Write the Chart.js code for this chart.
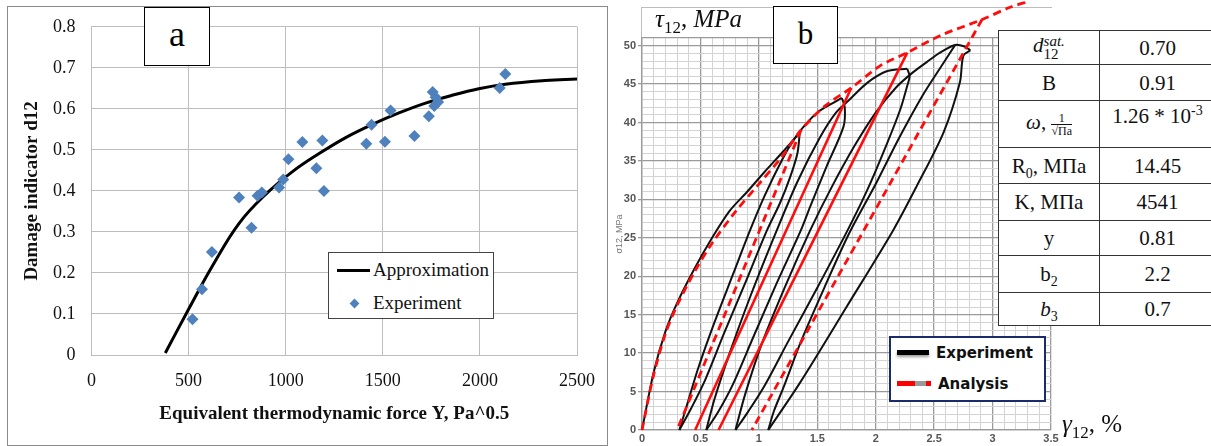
<!DOCTYPE html>
<html lang="en">
<head>
<meta charset="UTF-8">
<title>Damage indicator and cyclic shear response</title>
<script src="https://cdn.jsdelivr.net/npm/chart.js@4"></script>
<style>
  body { margin: 0; background: #fff; }
  #page { position: relative; width: 1211px; height: 446px; overflow: hidden; background: #fff; }
  canvas { position: absolute; top: 0; }
  #chartA { left: 0; }
  #chartB { left: 600px; }

  #frameA { position: absolute; left: 7px; top: 6px; width: 599px; height: 438px; border: 1px solid #8a8a8a; }
  #frameB { position: absolute; left: 641px; top: 7px; width: 410px; height: 31px; border-top: 1px solid #bdbdbd; border-left: 1px solid #bdbdbd; }

  .tag { position: absolute; box-sizing: border-box; background: #fff; border: 1.5px solid #000;
         font-family: "Liberation Serif", serif; text-align: center; color: #000; }
  #tagA { left: 144px; top: 7px; width: 66px; height: 59px; font-size: 36px; line-height: 52px; }
  #tagB { left: 773px; top: 6px; width: 65px; height: 58px; font-size: 31px; line-height: 54px; }

  #legendA { position: absolute; left: 328px; top: 252px; width: 166px; height: 67px; box-sizing: border-box;
             border: 1px solid #444; background: #fff; font-family: "Liberation Serif", serif; font-size: 19px; color: #111; }
  #legendA .txt { position: absolute; left: 44px; line-height: 22px; }
  #legendA .ln { position: absolute; left: 8px; top: 16px; width: 33px; height: 3px; background: #000; }
  #legendA .dm { position: absolute; left: 22px; top: 47px; width: 7px; height: 7px; background: #4f81bd; transform: rotate(45deg); }

  #legendB { position: absolute; left: 889px; top: 336px; width: 157px; height: 66px; box-sizing: border-box;
             border: 2px solid #1b2a6b; background: #fff; font-family: "DejaVu Sans", sans-serif; font-weight: bold; font-size: 15px; color: #111; }
  #legendB .txt { position: absolute; line-height: 18px; }
  #legendB .blk { position: absolute; left: 6px; top: 12px; width: 32px; height: 5px; background: #000; box-shadow: 0 2px 3px #999; }
  #legendB .seg { position: absolute; top: 43px; height: 5px; }

  #tauLabel { position: absolute; left: 655px; top: 4px; font-family: "Liberation Serif", serif; font-size: 25px; line-height: 30px; color: #111; }
  #gammaLabel { position: absolute; left: 1062px; top: 409px; font-family: "Liberation Serif", serif; font-size: 25px; line-height: 30px; color: #111; }
  #tauLabel sub, #gammaLabel sub { font-size: 17px; line-height: 0; }

  #params { position: absolute; left: 998px; top: 30px; width: 217px; table-layout: fixed; border-collapse: collapse;
            background: #fff; font-family: "Liberation Serif", serif; font-size: 21px; color: #111; }
  #params td { border: 1px solid #333; padding: 0; text-align: center; vertical-align: middle; line-height: 22px;
               font-family: "Liberation Serif", serif; }
  #params sub, #params sup { font-size: 14px; line-height: 0; }
  .ss { display: inline-block; vertical-align: middle; text-align: left; font-size: 15px; line-height: 13px; }
  .ss span { display: block; }
  .frac { display: inline-block; vertical-align: middle; text-align: center; font-size: 12px; line-height: 12px; }
  .frac .den { display: block; border-top: 1px solid #111; }
</style>
</head>
<body>
<div id="page">
  <div id="frameA"></div>
  <canvas id="chartA" width="610" height="446"></canvas>
  <div class="tag" id="tagA">a</div>
  <div id="legendA">
    <span class="ln"></span><div class="txt" style="top:6px">Approximation</div>
    <span class="dm"></span><div class="txt" style="top:39px">Experiment</div>
  </div>

  <div id="frameB"></div>
  <canvas id="chartB" width="611" height="446"></canvas>
  <div id="tauLabel"><i>τ</i><sub>12</sub>, <i>MPa</i></div>
  <div class="tag" id="tagB">b</div>

  <table id="params">
    <colgroup><col style="width:101px"><col style="width:116px"></colgroup>
    <tr style="height:34px"><td><i>d</i><span class="ss"><span><i>sat.</i></span><span>12</span></span></td><td>0.70</td></tr>
    <tr style="height:36px"><td>B</td><td>0.91</td></tr>
    <tr style="height:47px"><td><i>ω</i>, <span class="frac"><span>1</span><span class="den">√Па</span></span></td><td style="vertical-align:top;padding-top:4px">1.26 * 10<sup>-3</sup></td></tr>
    <tr style="height:36px"><td>R<sub>0</sub>, МПа</td><td>14.45</td></tr>
    <tr style="height:37px"><td>K, МПа</td><td>4541</td></tr>
    <tr style="height:35px"><td>y</td><td>0.81</td></tr>
    <tr style="height:37px"><td>b<sub>2</sub></td><td>2.2</td></tr>
    <tr style="height:33px"><td><i>b</i><sub>3</sub></td><td>0.7</td></tr>
  </table>

  <div id="legendB">
    <span class="blk"></span><div class="txt" style="left:45px;top:6px">Experiment</div>
    <span class="seg" style="left:6px;width:18px;background:#ff0000"></span>
    <span class="seg" style="left:24px;width:11px;background:#9a9a9a"></span>
    <span class="seg" style="left:35px;width:5px;background:#ff0000"></span>
    <div class="txt" style="left:47px;top:37px">Analysis</div>
  </div>
  <div id="gammaLabel"><i>γ</i><sub>12</sub>, %</div>
</div>

<script>
// ---- panel a: damage indicator vs thermodynamic force ----
const expY = [520, 569, 620, 760, 824, 855, 877, 966, 987, 1014, 1086, 1158, 1189, 1197,
              1415, 1442, 1511, 1540, 1663, 1737, 1757, 1765, 1772, 1785, 2102, 2131];
const expD = [0.087, 0.160, 0.251, 0.384, 0.310, 0.388, 0.396, 0.408, 0.428, 0.477, 0.519, 0.455, 0.523, 0.400,
              0.515, 0.561, 0.520, 0.596, 0.534, 0.582, 0.641, 0.607, 0.628, 0.617, 0.651, 0.685];
const approxY = [380, 504, 624, 760, 898, 1035, 1172, 1309, 1446, 1583, 1720, 1857, 1994, 2131, 2337, 2500];
const approxD = [0.005, 0.115, 0.218, 0.321, 0.392, 0.447, 0.491, 0.530, 0.562, 0.590, 0.614, 0.633, 0.649, 0.660, 0.669, 0.673];
const xTicksA = [0, 500, 1000, 1500, 2000, 2500];

// ---- panel b: shear stress-strain loops, [gamma %, tau MPa] ----
const expLoading = [[0, 0], [0.1, 7.5], [0.2, 12.8], [0.3, 16.5], [0.45, 21], [0.6, 25], [0.75, 28.5], [0.9, 31], [1.05, 33.6], [1.2, 36.1], [1.35, 38.7]];
const expUnload1 = [[1.35, 38.7], [1.33, 36], [1.27, 33], [1.18, 29.5], [1.07, 26], [0.88, 19], [0.70, 12.5], [0.54, 6.5], [0.42, 2.8], [0.32, 0]];
const expReload1 = [[0.32, 0], [0.38, 3], [0.48, 8], [0.62, 14], [0.78, 20.3], [0.925, 26], [1.05, 30.5], [1.20, 35.2], [1.30, 37.8], [1.38, 39.4], [1.50, 41.3], [1.64, 42.6], [1.71, 43.2]];
const expUnload2 = [[1.71, 43.2], [1.735, 42], [1.725, 39.5], [1.58, 34.3], [1.44, 29.1], [1.36, 26], [1.15, 19], [0.95, 12], [0.78, 6], [0.65, 2.3], [0.55, 0]];
const expReload2 = [[0.55, 0], [0.62, 4], [0.75, 10], [0.93, 17.5], [1.154, 26], [1.33, 32.3], [1.52, 38], [1.66, 41.3], [1.77, 42.9], [1.93, 45.2], [2.10, 46.7], [2.27, 47.0]];
const expUnload3 = [[2.27, 47.0], [2.29, 46], [2.27, 44.8], [2.21, 41.7], [2.10, 37.4], [1.93, 31.3], [1.76, 26], [1.50, 18.5], [1.25, 11.5], [1.05, 5.8], [0.90, 2.2], [0.80, 0]];
const expReload3 = [[0.80, 0], [0.88, 4.5], [1.02, 11], [1.22, 18.5], [1.44, 26], [1.62, 31.5], [1.82, 37], [2.0, 41.3], [2.17, 44.5], [2.30, 46.3], [2.44, 47.9], [2.55, 49.1], [2.68, 50.1], [2.76, 49.9], [2.81, 49.4]];
const expUnload4 = [[2.81, 49.4], [2.75, 48.7], [2.72, 45.2], [2.58, 38.7], [2.35, 31.7], [2.15, 26], [1.75, 16], [1.35, 6.1], [1.08, 0]];
const expReload4 = [[1.08, 0], [1.13, 2.5], [1.21, 5.5], [1.36, 11.5], [1.56, 18.5], [1.77, 25.5], [2.0, 32], [2.2, 38], [2.4, 43.5], [2.56, 47.3], [2.68, 50.1]];

const anaEnvelope = [[0, 0], [0.1, 7.2], [0.2, 12.5], [0.3, 16.2], [0.45, 20.6], [0.6, 24.3], [0.8, 28.4], [1.0, 32], [1.2, 35.6], [1.36, 39.0],
                     [1.57, 42.2], [1.79, 44.5], [2.04, 47.4], [2.27, 49.1], [2.55, 51.3], [2.91, 53.4], [3.15, 55.0], [3.32, 55.8]];
const anaUnload1 = [[1.36, 39.0], [0.30, 0]];
const anaUnload2 = [[1.79, 44.5], [0.455, 0]];
const anaUnload3 = [[2.27, 49.1], [0.655, 0]];
const anaUnload4 = [[2.91, 53.4], [0.94, 0]];

const serif = '"Liberation Serif", "Times New Roman", serif';

new Chart(document.getElementById('chartA'), {
  type: 'scatter',
  data: {
    datasets: [
      {
        label: 'Experiment',
        data: expY.map((x, i) => ({ x, y: expD[i] })),
        pointStyle: 'rectRot',
        pointRadius: 6,
        backgroundColor: '#4f81bd',
        borderColor: '#4f81bd',
        borderWidth: 0
      },
      {
        label: 'Approximation',
        data: approxY.map((x, i) => ({ x, y: approxD[i] })),
        showLine: true,
        borderColor: '#000',
        borderWidth: 3,
        pointRadius: 0,
        tension: 0.4
      }
    ]
  },
  options: {
    responsive: false,
    animation: false,
    layout: { padding: { top: 18, right: 32, left: 0, bottom: 0 } },
    plugins: { legend: { display: false }, tooltip: { enabled: false } },
    scales: {
      x: {
        type: 'linear', min: 0, max: 2500,
        afterBuildTicks: s => { s.ticks = xTicksA.map(v => ({ value: v })); },
        ticks: { padding: 15, color: '#111', font: { family: serif, size: 18 }, callback: v => String(v) },
        grid: { color: '#bdbdbd', drawTicks: false },
        border: { color: '#bdbdbd' },
        title: {
          display: true, text: 'Equivalent thermodynamic force Y, Pa^0.5', color: '#111',
          font: { family: serif, size: 19, weight: 'bold' }, padding: { top: 0, bottom: 21 }
        },
        afterFit: s => { s.height = 91; }
      },
      y: {
        min: 0, max: 0.8,
        ticks: { stepSize: 0.1, padding: 16, color: '#111', font: { family: serif, size: 18 },
                 callback: v => String(Math.round(v * 10) / 10) },
        grid: { color: '#bdbdbd', drawTicks: false },
        border: { color: '#bdbdbd' },
        title: {
          display: true, text: 'Damage indicator d12', color: '#111',
          font: { family: serif, size: 19, weight: 'bold' }, padding: { top: 21, bottom: 0 }
        },
        afterFit: s => { s.width = 91.5; }
      }
    }
  }
});

const pts = arr => arr.map(([x, y]) => ({ x, y }));
const curve = (arr, color, width, dash) => ({
  data: pts(arr),
  showLine: true,
  borderColor: color,
  borderWidth: width,
  borderDash: dash,
  pointRadius: 0,
  tension: 0.3,
  clip: false
});
const red = '#ff0d0d';
const isMajorX = v => Math.abs(v * 2 - Math.round(v * 2)) < 1e-6;
const isMajorY = v => v % 5 === 0 || v === 51;
const tickFontB = { family: '"Liberation Sans", Arial, sans-serif', size: 11, weight: 'bold' };

new Chart(document.getElementById('chartB'), {
  type: 'scatter',
  data: {
    datasets: [
      curve(anaEnvelope, red, 2.8, [8, 5]),
      curve(anaUnload1, red, 2.8, [8, 5]),
      curve(anaUnload2, red, 2.6, []),
      curve(anaUnload3, red, 2.6, []),
      curve(anaUnload4, red, 2.8, [8, 5]),
      curve(expLoading, '#111', 2, []),
      curve(expUnload1, '#111', 2, []),
      curve(expReload1, '#111', 2, []),
      curve(expUnload2, '#111', 2, []),
      curve(expReload2, '#111', 2, []),
      curve(expUnload3, '#111', 2, []),
      curve(expReload3, '#111', 2, []),
      curve(expUnload4, '#111', 2, []),
      curve(expReload4, '#111', 2, [])
    ]
  },
  options: {
    responsive: false,
    animation: false,
    layout: { padding: { top: 38, right: 160, left: 0, bottom: 0 } },
    plugins: { legend: { display: false }, tooltip: { enabled: false } },
    scales: {
      x: {
        type: 'linear', min: 0, max: 3.5,
        ticks: {
          stepSize: 0.1, maxTicksLimit: 1000, autoSkip: false, maxRotation: 0, padding: 2,
          color: '#555', font: tickFontB,
          callback: v => isMajorX(v) ? String(Math.round(v * 10) / 10) : ''
        },
        grid: {
          drawTicks: false,
          color: c => isMajorX(c.tick.value) ? '#9a9a9a' : '#d3d3d3',
          lineWidth: c => isMajorX(c.tick.value) ? 1.3 : 1
        },
        border: { color: '#9a9a9a', width: 1.3 },
        afterFit: s => { s.height = 16; }
      },
      y: {
        min: 0, max: 51,
        ticks: {
          stepSize: 1, maxTicksLimit: 1000, autoSkip: false, padding: 2,
          color: '#555', font: tickFontB,
          callback: v => v % 5 === 0 ? String(v) : ''
        },
        grid: {
          drawTicks: true, tickLength: 4,
          tickColor: c => c.tick.value % 5 === 0 ? '#9a9a9a' : 'rgba(0,0,0,0)',
          color: c => isMajorY(c.tick.value) ? '#9a9a9a' : '#d3d3d3',
          lineWidth: c => isMajorY(c.tick.value) ? 1.3 : 1
        },
        border: { color: '#9a9a9a', width: 1.3 },
        title: {
          display: true, text: 'σ12, MPa', color: '#777',
          font: { family: '"Liberation Sans", Arial, sans-serif', size: 9 }, padding: { top: 14, bottom: 0 }
        },
        afterFit: s => { s.width = 42; }
      }
    }
  }
});
</script>
</body>
</html>
